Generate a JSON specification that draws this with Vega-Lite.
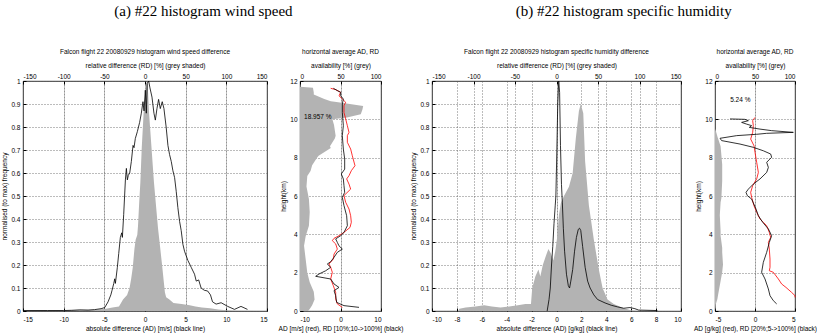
{
"$schema":"https://vega.github.io/schema/vega-lite/v6.json",
"padding":{"left":1,"top":4,"right":0,"bottom":0},
"spacing":6,
"config":{
 "view":{"stroke":"#000","strokeWidth":0.8},
 "axis":{"labelFont":"Liberation Sans","labelFontSize":6.5,"titleFont":"Liberation Sans","titleFontSize":6.5,"titleFontWeight":"normal","labelColor":"#000","titleColor":"#000","domain":false,"tickColor":"#000","tickSize":-3,"gridColor":"#555","gridDash":[1,2],"gridWidth":0.8,"zindex":1,"labelExpr":"replace(datum.label, '\u2212', '-')"},
 "title":{"font":"Liberation Sans","fontSize":6.5,"fontWeight":"normal","color":"#000"}
},
"datasets":{
 "greyA":[{"rd":-150,"f":0},{"rd":-140,"f":0.003},{"rd":-100,"f":0.003},{"rd":-60,"f":0.005},{"rd":-48,"f":0.01},{"rd":-40,"f":0.015},{"rd":-32,"f":0.02},{"rd":-27,"f":0.05},{"rd":-22,"f":0.07},{"rd":-19,"f":0.1},{"rd":-17,"f":0.14},{"rd":-15,"f":0.19},{"rd":-13,"f":0.27},{"rd":-11.5,"f":0.31},{"rd":-9.5,"f":0.33},{"rd":-8.6,"f":0.37},{"rd":-7,"f":0.48},{"rd":-5.7,"f":0.56},{"rd":-4,"f":0.71},{"rd":-1.7,"f":0.86},{"rd":0,"f":0.93},{"rd":1,"f":0.98},{"rd":2.5,"f":1.0},{"rd":3.5,"f":0.97},{"rd":5,"f":0.86},{"rd":8,"f":0.71},{"rd":11,"f":0.56},{"rd":13.5,"f":0.46},{"rd":16,"f":0.36},{"rd":18.5,"f":0.28},{"rd":21,"f":0.2},{"rd":23,"f":0.13},{"rd":24.5,"f":0.08},{"rd":26,"f":0.06},{"rd":30,"f":0.05},{"rd":35,"f":0.035},{"rd":45,"f":0.03},{"rd":55,"f":0.025},{"rd":62,"f":0.02},{"rd":70,"f":0.015},{"rd":80,"f":0.012},{"rd":90,"f":0.006},{"rd":100,"f":0.003},{"rd":110,"f":0.001},{"rd":150,"f":0}],
 "blackA":[{"ad":-15,"f":0.002},{"ad":-12,"f":0.002},{"ad":-10,"f":0.002},{"ad":-9,"f":0.003},{"ad":-8,"f":0.005},{"ad":-7,"f":0.004},{"ad":-6.2,"f":0.006},{"ad":-5.4,"f":0.01},{"ad":-4.95,"f":0.015},{"ad":-4.54,"f":0.04},{"ad":-4.2,"f":0.07},{"ad":-4.05,"f":0.09},{"ad":-3.84,"f":0.12},{"ad":-3.72,"f":0.14},{"ad":-3.64,"f":0.12},{"ad":-3.4,"f":0.19},{"ad":-3.23,"f":0.25},{"ad":-3.03,"f":0.32},{"ad":-2.86,"f":0.34},{"ad":-2.78,"f":0.32},{"ad":-2.62,"f":0.42},{"ad":-2.41,"f":0.57},{"ad":-2.29,"f":0.62},{"ad":-2.17,"f":0.57},{"ad":-2.05,"f":0.59},{"ad":-1.88,"f":0.6},{"ad":-1.68,"f":0.65},{"ad":-1.47,"f":0.72},{"ad":-1.35,"f":0.71},{"ad":-1.19,"f":0.75},{"ad":-0.94,"f":0.78},{"ad":-0.66,"f":0.82},{"ad":-0.45,"f":0.86},{"ad":-0.25,"f":0.91},{"ad":-0.12,"f":0.87},{"ad":0.04,"f":0.96},{"ad":0.16,"f":0.86},{"ad":0.28,"f":0.99},{"ad":0.45,"f":1.0},{"ad":0.61,"f":0.97},{"ad":0.86,"f":0.93},{"ad":1.1,"f":0.86},{"ad":1.27,"f":0.83},{"ad":1.47,"f":0.88},{"ad":1.67,"f":0.92},{"ad":1.88,"f":0.88},{"ad":2.12,"f":0.91},{"ad":2.33,"f":0.88},{"ad":2.6,"f":0.8},{"ad":2.82,"f":0.72},{"ad":3.02,"f":0.68},{"ad":3.23,"f":0.65},{"ad":3.43,"f":0.61},{"ad":3.64,"f":0.58},{"ad":3.84,"f":0.52},{"ad":4.04,"f":0.45},{"ad":4.25,"f":0.39},{"ad":4.45,"f":0.35},{"ad":4.66,"f":0.29},{"ad":4.86,"f":0.26},{"ad":5.27,"f":0.22},{"ad":5.68,"f":0.19},{"ad":6.09,"f":0.16},{"ad":6.3,"f":0.13},{"ad":6.6,"f":0.135},{"ad":6.9,"f":0.1},{"ad":7.3,"f":0.09},{"ad":7.7,"f":0.087},{"ad":8.05,"f":0.07},{"ad":8.3,"f":0.04},{"ad":8.74,"f":0.03},{"ad":9.36,"f":0.036},{"ad":10.17,"f":0.02},{"ad":11,"f":0.007},{"ad":11.8,"f":0.02},{"ad":12.6,"f":0.007}],
 "availA":[{"h":0,"avail":10},{"h":0.1,"avail":12},{"h":0.3,"avail":15},{"h":0.6,"avail":18},{"h":1.0,"avail":17},{"h":1.5,"avail":12},{"h":2.0,"avail":9},{"h":2.7,"avail":7},{"h":3.4,"avail":5},{"h":3.9,"avail":7},{"h":4.45,"avail":11},{"h":5.15,"avail":12},{"h":5.85,"avail":11},{"h":6.5,"avail":8},{"h":7.05,"avail":9},{"h":7.3,"avail":13},{"h":7.6,"avail":15},{"h":8.0,"avail":21},{"h":8.1,"avail":23},{"h":8.5,"avail":38},{"h":8.6,"avail":37},{"h":9.0,"avail":43},{"h":9.15,"avail":44},{"h":9.7,"avail":42},{"h":10.0,"avail":40},{"h":10.1,"avail":58},{"h":10.26,"avail":75},{"h":10.5,"avail":77},{"h":10.7,"avail":78},{"h":10.9,"avail":45},{"h":10.95,"avail":38},{"h":11.06,"avail":30},{"h":11.3,"avail":17},{"h":11.4,"avail":17},{"h":11.65,"avail":16},{"h":11.7,"avail":0}],
 "profA":[
  {"s":"AD","h":11.62,"v":-2.43},{"s":"AD","h":11.55,"v":-1.19},{"s":"AD","h":11.41,"v":0.04},{"s":"AD","h":11.23,"v":-0.37},{"s":"AD","h":11.06,"v":0.45},{"s":"AD","h":10.89,"v":1.28},{"s":"AD","h":10.71,"v":0.86},{"s":"AD","h":10.36,"v":0.86},{"s":"AD","h":10.02,"v":1.28},{"s":"AD","h":9.67,"v":1.69},{"s":"AD","h":9.32,"v":2.1},{"s":"AD","h":9.15,"v":1.69},{"s":"AD","h":8.8,"v":1.69},{"s":"AD","h":8.45,"v":2.51},{"s":"AD","h":8.1,"v":2.92},{"s":"AD","h":7.58,"v":3.58},{"s":"AD","h":7.32,"v":2.67},{"s":"AD","h":7.06,"v":2.1},{"s":"AD","h":6.89,"v":1.52},{"s":"AD","h":6.62,"v":2.1},{"s":"AD","h":6.36,"v":2.51},{"s":"AD","h":6.02,"v":0.86},{"s":"AD","h":5.67,"v":1.28},{"s":"AD","h":5.32,"v":2.1},{"s":"AD","h":4.97,"v":2.51},{"s":"AD","h":4.63,"v":2.67},{"s":"AD","h":4.36,"v":2.35},{"s":"AD","h":4.1,"v":0.86},{"s":"AD","h":3.93,"v":-0.37},{"s":"AD","h":3.79,"v":-1.6},{"s":"AD","h":3.67,"v":-2.02},{"s":"AD","h":3.5,"v":-1.19},{"s":"AD","h":3.23,"v":-0.78},{"s":"AD","h":2.97,"v":-1.6},{"s":"AD","h":2.71,"v":-1.77},{"s":"AD","h":2.45,"v":-2.84},{"s":"AD","h":2.28,"v":-2.43},{"s":"AD","h":2.02,"v":-2.02},{"s":"AD","h":1.67,"v":-2.43},{"s":"AD","h":1.32,"v":-1.77},{"s":"AD","h":0.97,"v":-1.19},{"s":"AD","h":0.63,"v":-1.19},{"s":"AD","h":0.37,"v":-0.78},{"s":"AD","h":0.19,"v":0.45},
  {"s":"RD","h":11.62,"v":-1.77},{"s":"RD","h":11.5,"v":-0.78},{"s":"RD","h":11.41,"v":0.04},{"s":"RD","h":11.23,"v":0.04},{"s":"RD","h":11.06,"v":0.7},{"s":"RD","h":10.8,"v":0.45},{"s":"RD","h":10.36,"v":0.45},{"s":"RD","h":9.67,"v":0.7},{"s":"RD","h":9.15,"v":0.45},{"s":"RD","h":8.45,"v":0.7},{"s":"RD","h":7.93,"v":1.03},{"s":"RD","h":7.4,"v":1.03},{"s":"RD","h":7.15,"v":0.2},{"s":"RD","h":6.89,"v":0.7},{"s":"RD","h":6.54,"v":0.86},{"s":"RD","h":6.19,"v":1.03},{"s":"RD","h":5.93,"v":0.45},{"s":"RD","h":5.5,"v":0.86},{"s":"RD","h":4.97,"v":1.52},{"s":"RD","h":4.45,"v":1.69},{"s":"RD","h":4.1,"v":0.86},{"s":"RD","h":3.93,"v":0.04},{"s":"RD","h":3.76,"v":-1.19},{"s":"RD","h":3.58,"v":-0.78},{"s":"RD","h":3.4,"v":-0.37},{"s":"RD","h":3.23,"v":0.45},{"s":"RD","h":3.06,"v":-0.78},{"s":"RD","h":2.8,"v":-1.6},{"s":"RD","h":2.57,"v":-2.43},{"s":"RD","h":2.45,"v":-3.25},{"s":"RD","h":2.28,"v":-2.43},{"s":"RD","h":2.1,"v":-3.66},{"s":"RD","h":1.93,"v":-5.31},{"s":"RD","h":1.81,"v":-6.13},{"s":"RD","h":1.67,"v":-2.43},{"s":"RD","h":1.41,"v":-1.6},{"s":"RD","h":1.23,"v":-0.37},{"s":"RD","h":1.06,"v":-1.6},{"s":"RD","h":0.8,"v":-1.19},{"s":"RD","h":0.45,"v":-0.95},{"s":"RD","h":0.28,"v":0.86},{"s":"RD","h":0.19,"v":4.57}],
 "greyB":[{"rd":-150,"f":0},{"rd":-118.5,"f":0},{"rd":-117,"f":0.01},{"rd":-109.5,"f":0.015},{"rd":-97.5,"f":0.02},{"rd":-87,"f":0.025},{"rd":-78,"f":0.02},{"rd":-67.5,"f":0.015},{"rd":-57,"f":0.02},{"rd":-46.5,"f":0.025},{"rd":-37.5,"f":0.03},{"rd":-30.75,"f":0.03},{"rd":-29.25,"f":0.1},{"rd":-25.5,"f":0.15},{"rd":-21.75,"f":0.18},{"rd":-19.5,"f":0.15},{"rd":-16.5,"f":0.2},{"rd":-12.75,"f":0.24},{"rd":-9.75,"f":0.27},{"rd":-6.75,"f":0.25},{"rd":-3.75,"f":0.22},{"rd":-1.5,"f":0.26},{"rd":0.75,"f":0.32},{"rd":3,"f":0.42},{"rd":5.25,"f":0.47},{"rd":9,"f":0.5},{"rd":15,"f":0.54},{"rd":19.5,"f":0.6},{"rd":23.25,"f":0.75},{"rd":27,"f":0.87},{"rd":29.25,"f":0.9},{"rd":32.25,"f":0.86},{"rd":34.5,"f":0.65},{"rd":39,"f":0.46},{"rd":45,"f":0.31},{"rd":51,"f":0.18},{"rd":55.5,"f":0.1},{"rd":61.5,"f":0.05},{"rd":69,"f":0.03},{"rd":81,"f":0.012},{"rd":90,"f":0.003},{"rd":97.5,"f":0},{"rd":150,"f":0}],
 "blackB":[{"ad":-0.75,"f":0},{"ad":-0.6,"f":0.05},{"ad":-0.5,"f":0.1},{"ad":-0.4,"f":0.2},{"ad":-0.3,"f":0.28},{"ad":-0.2,"f":0.38},{"ad":-0.1,"f":0.46},{"ad":-0.05,"f":0.5},{"ad":0.03,"f":0.7},{"ad":0.1,"f":0.9},{"ad":0.18,"f":1.0},{"ad":0.25,"f":0.95},{"ad":0.32,"f":0.72},{"ad":0.4,"f":0.55},{"ad":0.47,"f":0.47},{"ad":0.55,"f":0.36},{"ad":0.65,"f":0.26},{"ad":0.8,"f":0.16},{"ad":0.95,"f":0.11},{"ad":1.05,"f":0.1},{"ad":1.15,"f":0.13},{"ad":1.3,"f":0.18},{"ad":1.45,"f":0.26},{"ad":1.6,"f":0.32},{"ad":1.75,"f":0.355},{"ad":1.85,"f":0.36},{"ad":1.95,"f":0.35},{"ad":2.1,"f":0.28},{"ad":2.3,"f":0.19},{"ad":2.5,"f":0.13},{"ad":2.7,"f":0.1},{"ad":3.0,"f":0.07},{"ad":3.3,"f":0.05},{"ad":3.9,"f":0.035},{"ad":4.4,"f":0.025},{"ad":4.9,"f":0.018},{"ad":5.4,"f":0.012},{"ad":5.9,"f":0.015},{"ad":6.3,"f":0.01},{"ad":6.6,"f":0.004},{"ad":8.1,"f":0.002}],
 "availB":[{"h":0,"avail":0},{"h":0.35,"avail":1},{"h":0.62,"avail":3},{"h":0.87,"avail":4},{"h":1.56,"avail":7},{"h":2.02,"avail":9},{"h":2.43,"avail":10},{"h":3.06,"avail":9},{"h":3.3,"avail":9},{"h":3.93,"avail":7},{"h":4.17,"avail":7},{"h":5.0,"avail":6},{"h":5.67,"avail":7},{"h":5.9,"avail":8},{"h":6.78,"avail":9},{"h":7.06,"avail":9},{"h":7.65,"avail":9},{"h":8.6,"avail":7},{"h":9.1,"avail":3},{"h":9.4,"avail":1},{"h":9.5,"avail":0}],
 "profB":[
  {"s":"AD","h":10.1,"v":0},{"s":"AD","h":9.93,"v":-0.29},{"s":"AD","h":9.67,"v":-0.21},{"s":"AD","h":9.32,"v":-0.29},{"s":"AD","h":8.97,"v":-0.54},{"s":"AD","h":8.62,"v":-0.125},{"s":"AD","h":8.28,"v":0},{"s":"AD","h":7.76,"v":0.21},{"s":"AD","h":7.23,"v":0.42},{"s":"AD","h":6.89,"v":0.21},{"s":"AD","h":6.54,"v":-0.29},{"s":"AD","h":6.19,"v":-0.54},{"s":"AD","h":5.93,"v":-0.42},{"s":"AD","h":5.49,"v":-0.125},{"s":"AD","h":5.15,"v":0.21},{"s":"AD","h":4.8,"v":0.625},{"s":"AD","h":4.63,"v":1.04},{"s":"AD","h":4.45,"v":1.46},{"s":"AD","h":4.1,"v":1.79},{"s":"AD","h":3.84,"v":1.96},{"s":"AD","h":3.58,"v":1.67},{"s":"AD","h":3.23,"v":1.79},{"s":"AD","h":2.71,"v":1.875},{"s":"AD","h":2.28,"v":1.875},{"s":"AD","h":2.1,"v":1.79},{"s":"AD","h":2.02,"v":2.29},{"s":"AD","h":1.67,"v":2.92},{"s":"AD","h":1.41,"v":3.33},{"s":"AD","h":1.23,"v":3.875},{"s":"AD","h":0.97,"v":4.58},{"s":"AD","h":0.8,"v":5.0},{"s":"AD","h":0.71,"v":5.0},
  {"s":"RD","h":10.02,"v":-3.125},{"s":"RD","h":10.0,"v":-1.25},{"s":"RD","h":9.93,"v":-0.83},{"s":"RD","h":9.84,"v":-1.67},{"s":"RD","h":9.75,"v":-1.04},{"s":"RD","h":9.67,"v":-0.42},{"s":"RD","h":9.58,"v":-0.71},{"s":"RD","h":9.49,"v":0.625},{"s":"RD","h":9.41,"v":2.08},{"s":"RD","h":9.32,"v":4.79},{"s":"RD","h":9.27,"v":1.46},{"s":"RD","h":9.22,"v":0.21},{"s":"RD","h":9.15,"v":-2.29},{"s":"RD","h":9.01,"v":-4.375},{"s":"RD","h":8.89,"v":-4.17},{"s":"RD","h":8.71,"v":-1.875},{"s":"RD","h":8.54,"v":-0.21},{"s":"RD","h":8.36,"v":1.04},{"s":"RD","h":8.19,"v":1.96},{"s":"RD","h":8.02,"v":2.08},{"s":"RD","h":7.76,"v":1.46},{"s":"RD","h":7.49,"v":1.67},{"s":"RD","h":7.23,"v":1.46},{"s":"RD","h":6.89,"v":0.625},{"s":"RD","h":6.62,"v":-0.21},{"s":"RD","h":6.36,"v":-0.83},{"s":"RD","h":6.19,"v":-1.125},{"s":"RD","h":6.02,"v":-0.96},{"s":"RD","h":5.84,"v":-0.42},{"s":"RD","h":5.32,"v":0.125},{"s":"RD","h":4.97,"v":0.42},{"s":"RD","h":4.63,"v":0.96},{"s":"RD","h":4.28,"v":1.67},{"s":"RD","h":3.93,"v":2.08},{"s":"RD","h":3.58,"v":1.79},{"s":"RD","h":3.06,"v":1.46},{"s":"RD","h":2.54,"v":1.04},{"s":"RD","h":2.02,"v":0.83},{"s":"RD","h":1.67,"v":1.25},{"s":"RD","h":1.15,"v":1.67},{"s":"RD","h":0.8,"v":1.875},{"s":"RD","h":0.54,"v":2.29},{"s":"RD","h":0.37,"v":2.71}]
},
"hconcat":[
 {"title":{"text":"(a) #22 histogram wind speed","font":"Liberation Serif","fontSize":15,"offset":29,"anchor":"middle","dx":1},
  "bounds":"flush","spacing":33,
  "hconcat":[
   {"width":244,"height":230,
    "title":{"text":"Falcon flight  22 20080929 histogram wind speed difference","offset":7},
    "encoding":{"y":{"field":"f","type":"quantitative","scale":{"domain":[0,1]},"axis":{"title":"normalised (to max) frequency","values":[0,0.1,0.2,0.3,0.4,0.5,0.6,0.7,0.8,0.9,1],"format":"~g","labelPadding":6,"titlePadding":3,"grid":true}}},
    "layer":[
     {"data":{"name":"greyA"},"mark":{"type":"area","orient":"vertical","color":"#b3b3b3"},
      "encoding":{"x":{"field":"rd","type":"quantitative","scale":{"domain":[-150,150]},"axis":{"orient":"top","title":"relative difference (RD) [%] (grey shaded)","values":[-150,-100,-50,0,50,100,150],"labelPadding":5,"titlePadding":5,"grid":true}}}},
     {"data":{"name":"blackA"},"mark":{"type":"line","color":"#000","strokeWidth":0.8},
      "encoding":{"x":{"field":"ad","type":"quantitative","scale":{"domain":[-15,15]},"axis":{"orient":"bottom","title":"absolute difference (AD) [m/s] (black line)","values":[-15,-10,-5,0,5,10,15],"labelPadding":8,"titlePadding":3,"grid":true}}}}
    ],
    "resolve":{"scale":{"x":"independent"}}},
   {"width":81,"height":230,
    "title":{"text":"horizontal average AD, RD","offset":7},
    "encoding":{"y":{"field":"h","type":"quantitative","scale":{"domain":[0,12]},"axis":{"title":"height(km)","values":[0,2,4,6,8,10,12],"labelPadding":6,"titlePadding":3,"grid":true}}},
    "layer":[
     {"data":{"name":"availA"},"mark":{"type":"area","orient":"horizontal","color":"#b3b3b3"},
      "encoding":{"x":{"field":"avail","type":"quantitative","scale":{"domain":[0,100]},"axis":{"orient":"top","title":"availability [%] (grey)","values":[0,50,100],"labelPadding":5,"titlePadding":5,"grid":true}}}},
     {"encoding":{"x":{"field":"v","type":"quantitative","scale":{"domain":[-10,10]},"axis":{"orient":"bottom","title":"AD [m/s] (red), RD [10%;10->100%] (black)","values":[-10,0,10],"labelPadding":8,"titlePadding":3,"grid":true}}},
      "layer":[
       {"data":{"name":"profA"},"mark":{"type":"line","strokeWidth":0.8},
        "encoding":{"color":{"field":"s","type":"nominal","scale":{"domain":["AD","RD"],"range":["#ff0000","#000000"]},"legend":null},"order":{"field":"h","type":"quantitative"}}},
       {"data":{"values":[{"v":-9,"h":10.1,"label":"18.957 %"}]},"mark":{"type":"text","align":"left","baseline":"middle","font":"Liberation Sans","fontSize":6.5},
        "encoding":{"text":{"field":"label"}}}
      ]}
    ],
    "resolve":{"scale":{"x":"independent"}}}
  ]},
 {"title":{"text":"(b) #22 histogram specific humidity","font":"Liberation Serif","fontSize":15,"offset":29,"anchor":"middle","dx":10},
  "bounds":"flush","spacing":34,
  "hconcat":[
   {"width":249,"height":230,
    "title":{"text":"Falcon flight  22 20080929 histogram specific humidity difference","offset":7},
    "encoding":{"y":{"field":"f","type":"quantitative","scale":{"domain":[0,1]},"axis":{"title":"normalised (to max) frequency","values":[0,0.1,0.2,0.3,0.4,0.5,0.6,0.7,0.8,0.9,1],"format":"~g","labelPadding":6,"titlePadding":3,"grid":true}}},
    "layer":[
     {"data":{"name":"greyB"},"mark":{"type":"area","orient":"vertical","color":"#b3b3b3"},
      "encoding":{"x":{"field":"rd","type":"quantitative","scale":{"domain":[-150,150]},"axis":{"orient":"top","title":"relative difference (RD) [%] (grey shaded)","values":[-150,-100,-50,0,50,100,150],"labelPadding":5,"titlePadding":5,"grid":true}}}},
     {"data":{"name":"blackB"},"mark":{"type":"line","color":"#000","strokeWidth":0.8},
      "encoding":{"x":{"field":"ad","type":"quantitative","scale":{"domain":[-10,10]},"axis":{"orient":"bottom","title":"absolute difference (AD) [g/kg] (black line)","values":[-10,-8,-6,-4,-2,0,2,4,6,8,10],"labelPadding":8,"titlePadding":3,"grid":true}}}}
    ],
    "resolve":{"scale":{"x":"independent"}}},
   {"width":80,"height":230,
    "title":{"text":"horizontal average AD, RD","offset":7},
    "encoding":{"y":{"field":"h","type":"quantitative","scale":{"domain":[0,12]},"axis":{"title":"height(km)","values":[0,2,4,6,8,10,12],"labelPadding":6,"titlePadding":3,"grid":true}}},
    "layer":[
     {"data":{"name":"availB"},"mark":{"type":"area","orient":"horizontal","color":"#b3b3b3"},
      "encoding":{"x":{"field":"avail","type":"quantitative","scale":{"domain":[0,100]},"axis":{"orient":"top","title":"availability [%] (grey)","values":[0,50,100],"labelPadding":5,"titlePadding":5,"grid":true}}}},
     {"encoding":{"x":{"field":"v","type":"quantitative","scale":{"domain":[-5,5],"clamp":true},"axis":{"orient":"bottom","title":"AD [g/kg] (red), RD [20%;5->100%] (black)","values":[-5,0,5],"labelPadding":8,"titlePadding":3,"grid":true}}},
      "layer":[
       {"data":{"name":"profB"},"mark":{"type":"line","strokeWidth":0.8},
        "encoding":{"color":{"field":"s","type":"nominal","scale":{"domain":["AD","RD"],"range":["#ff0000","#000000"]},"legend":null},"order":{"field":"h","type":"quantitative"}}},
       {"data":{"values":[{"v":-3.1,"h":11.0,"label":"5.24 %"}]},"mark":{"type":"text","align":"left","baseline":"middle","font":"Liberation Sans","fontSize":6.5},
        "encoding":{"text":{"field":"label"}}}
      ]}
    ],
    "resolve":{"scale":{"x":"independent"}}}
  ]}
]
}
